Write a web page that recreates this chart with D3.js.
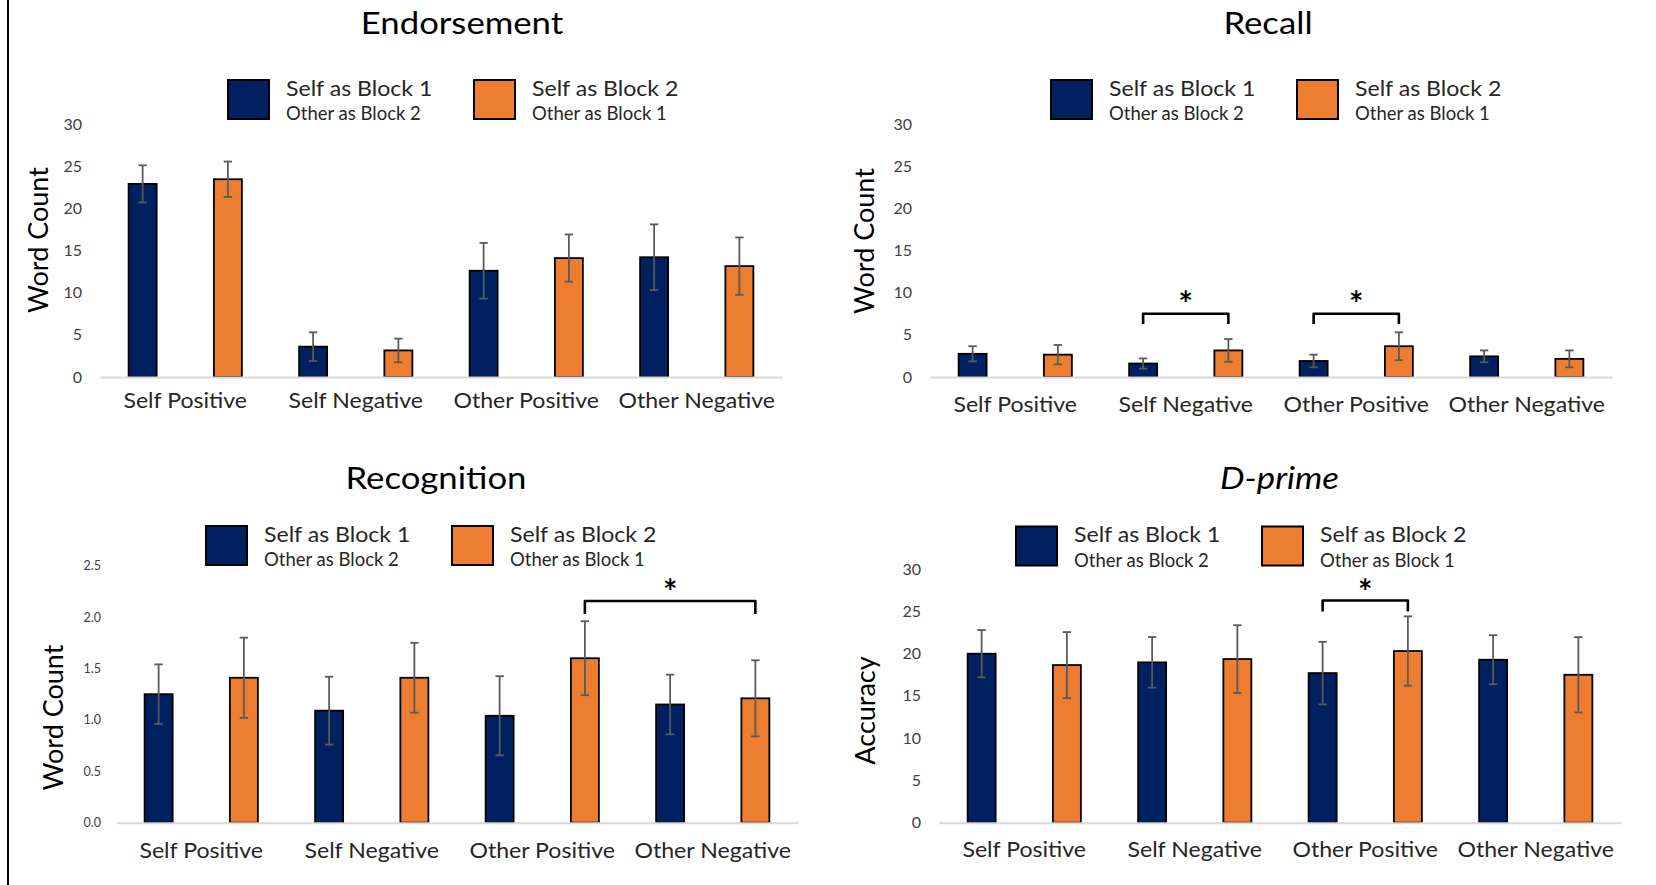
<!DOCTYPE html>
<html>
<head>
<meta charset="utf-8">
<script src="https://cdn.jsdelivr.net/npm/d3@7"></script>
<style>
  html, body { margin: 0; padding: 0; background: #fff; }
  svg { display: block; }
  text { font-family: Lato, "Open Sans", sans-serif; }
</style>
</head>
<body>
<svg id="chart" width="1656" height="885"></svg>
<script>
// ---------------- DATA ----------------
const categories = ["Self Positive", "Self Negative", "Other Positive", "Other Negative"];
const seriesNames = ["Self as Block 1", "Self as Block 2"];
const seriesSubNames = ["Other as Block 2", "Other as Block 1"];

const endorseBlock1 = [22.9, 3.6, 12.6, 14.2];
const endorseBlock2 = [23.45, 3.15, 14.1, 13.15];
const endorseErr1 = [2.2, 1.7, 3.3, 3.9];
const endorseErr2 = [2.1, 1.4, 2.8, 3.4];

const recallBlock1 = [2.75, 1.6, 1.9, 2.45];
const recallBlock2 = [2.65, 3.15, 3.65, 2.15];
const recallErr1 = [0.9, 0.6, 0.75, 0.7];
const recallErr2 = [1.15, 1.35, 1.65, 1.0];

const recogBlock1 = [1.25, 1.09, 1.04, 1.15];
const recogBlock2 = [1.41, 1.41, 1.60, 1.21];
const recogErr1 = [0.29, 0.33, 0.385, 0.29];
const recogErr2 = [0.39, 0.34, 0.36, 0.37];

const dprimeBlock1 = [19.98, 18.96, 17.69, 19.27];
const dprimeBlock2 = [18.64, 19.35, 20.3, 17.49];
const dprimeErr1 = [2.8, 3.0, 3.7, 2.9];
const dprimeErr2 = [3.9, 4.0, 4.1, 4.45];

const countTicks = [0, 5, 10, 15, 20, 25, 30];
const recogTicks = [0, 0.5, 1.0, 1.5, 2.0, 2.5];

// significance brackets: category/series index of both ends, bar height, leg end, star position
const recallBrackets = [
  { c1: 1, s1: 0, c2: 1, s2: 1, top: 7.5, leg: 6.28, star: 9.6 },
  { c1: 2, s1: 0, c2: 2, s2: 1, top: 7.5, leg: 6.28, star: 9.6 }
];
const recogBrackets = [
  { c1: 2, s1: 1, c2: 3, s2: 1, top: 2.157, leg: 2.03, star: 2.33 }
];
const dprimeBrackets = [
  { c1: 2, s1: 0, c2: 2, s2: 1, top: 26.27, leg: 24.97, star: 28.3 }
];
const endorseBrackets = [];

const colors = ["#002060", "#ED7D31"];

// ---------------- DRAW ----------------
const svg = d3.select("#chart");

// widen text horizontally by factor k (keeps it real text)
function stretch(sel, k) {
  sel.each(function () {
    const w = this.getComputedTextLength();
    d3.select(this).attr("textLength", w * k).attr("lengthAdjust", "spacingAndGlyphs");
  });
  return sel;
}

// left frame line
svg.append("line").attr("x1", 8).attr("x2", 8).attr("y1", 0).attr("y2", 885)
  .attr("stroke", "#000").attr("stroke-width", 2);

const panels = [
  { title: "Endorsement", italic: false, yTitle: "Word Count",
    b1: endorseBlock1, b2: endorseBlock2, e1: endorseErr1, e2: endorseErr2,
    ticks: countTicks, fmt: d3.format("d"), tickSize: 16, domain: [0, 30],
    xr: [100, 782], yr: [377, 124], tickX: 82, yTitleX: 48, yTitleY: 240,
    titleX: 462, titleY: 33.5, legX: 228, legY: 80, labY: 408, brackets: endorseBrackets },
  { title: "Recall", italic: false, yTitle: "Word Count",
    b1: recallBlock1, b2: recallBlock2, e1: recallErr1, e2: recallErr2,
    ticks: countTicks, fmt: d3.format("d"), tickSize: 16, domain: [0, 30],
    xr: [930, 1612], yr: [377, 124], tickX: 912, yTitleX: 874, yTitleY: 241,
    titleX: 1268, titleY: 33.5, legX: 1051, legY: 80, labY: 411.5, brackets: recallBrackets },
  { title: "Recognition", italic: false, yTitle: "Word Count",
    b1: recogBlock1, b2: recogBlock2, e1: recogErr1, e2: recogErr2,
    ticks: recogTicks, fmt: d3.format(".1f"), tickSize: 12.5, domain: [0, 2.5],
    xr: [116, 798], yr: [822.7, 565.7], tickX: 101, yTitleX: 63, yTitleY: 717.5,
    titleX: 436, titleY: 489, legX: 206, legY: 526, labY: 858, brackets: recogBrackets },
  { title: "D-prime", italic: true, yTitle: "Accuracy",
    b1: dprimeBlock1, b2: dprimeBlock2, e1: dprimeErr1, e2: dprimeErr2,
    ticks: countTicks, fmt: d3.format("d"), tickSize: 16, domain: [0, 30],
    xr: [939, 1621], yr: [822.7, 569], tickX: 921, yTitleX: 875, yTitleY: 710.5,
    titleX: 1279.5, titleY: 489, legX: 1016, legY: 526.5, labY: 857, brackets: dprimeBrackets }
];

const BAR_W = 28;

panels.forEach(p => {
  const g = svg.append("g");
  const x0 = d3.scaleBand().domain(categories).range(p.xr).padding(0);
  const x1 = d3.scalePoint().domain(seriesNames).range([0, x0.bandwidth()]).padding(0.5);
  const y = d3.scaleLinear().domain(p.domain).range(p.yr);
  const barX = (ci, si) => x0(categories[ci]) + x1(seriesNames[si]);

  // title
  stretch(g.append("text").attr("x", p.titleX).attr("y", p.titleY)
    .attr("text-anchor", "middle").attr("font-size", 31)
    .attr("font-style", p.italic ? "italic" : "normal")
    .attr("fill", "#000").text(p.title), 1.12);

  // y axis tick labels (no line)
  const yAxis = d3.axisLeft(y).tickValues(p.ticks).tickFormat(p.fmt).tickSize(0).tickPadding(0);
  const ya = g.append("g").attr("transform", `translate(${p.tickX},0)`).call(yAxis);
  ya.select(".domain").remove();
  ya.selectAll("text").attr("font-size", p.tickSize).attr("fill", "#404040")
    .attr("font-family", "Lato, sans-serif");

  // y title
  g.append("text").attr("transform", `translate(${p.yTitleX},${p.yTitleY}) rotate(-90)`)
    .attr("text-anchor", "middle").attr("font-size", 27).attr("fill", "#000").text(p.yTitle);

  // bars
  const rows = [];
  categories.forEach((c, ci) => {
    rows.push({ ci, si: 0, v: p.b1[ci], e: p.e1[ci] });
    rows.push({ ci, si: 1, v: p.b2[ci], e: p.e2[ci] });
  });
  g.selectAll("rect.bar").data(rows).join("rect").attr("class", "bar")
    .attr("x", d => barX(d.ci, d.si) - BAR_W / 2)
    .attr("width", BAR_W)
    .attr("y", d => y(d.v))
    .attr("height", d => y(0) - y(d.v))
    .attr("fill", d => colors[d.si])
    .attr("stroke", "#000").attr("stroke-width", 1.8);

  // baseline (x axis line)
  const xAxis = d3.axisBottom(x0).tickSize(0).tickPadding(0).tickFormat("");
  const xa = g.append("g").attr("transform", `translate(0,${y(0)})`).call(xAxis);
  xa.select(".domain").attr("stroke", "#d9d9d9").attr("stroke-width", 2);

  // category labels
  stretch(g.selectAll("text.cat").data(categories).join("text").attr("class", "cat")
    .attr("x", d => x0(d) + x0.bandwidth() / 2).attr("y", p.labY)
    .attr("text-anchor", "middle").attr("font-size", 22).attr("fill", "#262626").text(d => d), 1.05);

  // error bars
  const eg = g.selectAll("g.err").data(rows).join("g").attr("class", "err")
    .attr("stroke", "#5a5a5a").attr("stroke-width", 1.8);
  eg.append("line")
    .attr("x1", d => barX(d.ci, d.si)).attr("x2", d => barX(d.ci, d.si))
    .attr("y1", d => y(d.v + d.e)).attr("y2", d => y(d.v - d.e));
  eg.append("line")
    .attr("x1", d => barX(d.ci, d.si) - 4.2).attr("x2", d => barX(d.ci, d.si) + 4.2)
    .attr("y1", d => y(d.v + d.e)).attr("y2", d => y(d.v + d.e));
  eg.append("line")
    .attr("x1", d => barX(d.ci, d.si) - 4.2).attr("x2", d => barX(d.ci, d.si) + 4.2)
    .attr("y1", d => y(d.v - d.e)).attr("y2", d => y(d.v - d.e));

  // brackets
  p.brackets.forEach(b => {
    const xa1 = barX(b.c1, b.s1), xa2 = barX(b.c2, b.s2);
    const path = d3.path();
    path.moveTo(xa1, y(b.leg));
    path.lineTo(xa1, y(b.top));
    path.lineTo(xa2, y(b.top));
    path.lineTo(xa2, y(b.leg));
    g.append("path").attr("d", path.toString()).attr("fill", "none")
      .attr("stroke", "#000").attr("stroke-width", 2.6).attr("stroke-linejoin", "round");
    g.append("text").attr("x", (xa1 + xa2) / 2).attr("y", y(b.star) + 0.6 * 34)
      .attr("text-anchor", "middle").attr("font-size", 34).attr("font-weight", "bold")
      .attr("fill", "#000").text("*");
  });

  // legend
  seriesNames.forEach((s, si) => {
    const lx = p.legX + si * 246;
    g.append("rect").attr("x", lx).attr("y", p.legY).attr("width", 41).attr("height", 39)
      .attr("fill", colors[si]).attr("stroke", "#000").attr("stroke-width", 2);
    stretch(g.append("text").attr("x", lx + 58).attr("y", p.legY + 15.5)
      .attr("font-size", 21).attr("fill", "#262626").text(s), 1.1);
    g.append("text").attr("x", lx + 58).attr("y", p.legY + 40)
      .attr("font-size", 18.5).attr("fill", "#262626").text(seriesSubNames[si]);
  });
});
</script>
</body>
</html>
